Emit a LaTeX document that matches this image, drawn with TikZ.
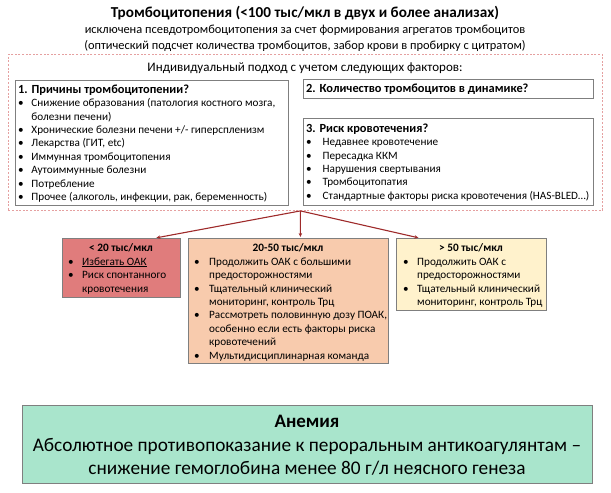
\documentclass[tikz,border=0pt]{standalone}
\usepackage{fontspec}
\setmainfont{Carlito}
\usetikzlibrary{arrows.meta}
\definecolor{redfill}{HTML}{E07C7C}
\definecolor{peachfill}{HTML}{F8CBAD}
\definecolor{yellowfill}{HTML}{FFF2CC}
\definecolor{greenfill}{HTML}{A9E5CC}
\definecolor{boxline}{HTML}{7F7F7F}
\definecolor{dashline}{HTML}{E5A0A0}
\definecolor{arrowred}{HTML}{9E2A2A}
\newlength\bulw
\newcommand\bl[1]{\makebox[\bulw][l]{•}#1}
\newcommand\cl[1]{\hspace*{\bulw}#1}
\newcommand\fr{\rule{0pt}{10pt}}
\newcommand\sect[1]{{\fontsize{12.4}{13.4}\selectfont\bfseries #1}}
\begin{document}
\begin{tikzpicture}[x=1pt,y=-1pt,
  box/.style={draw=boxline, line width=0.8pt, fill=white, inner sep=0pt, anchor=north west},
  cbox/.style={draw=boxline, line width=0.8pt, inner sep=0pt, anchor=north west},
  txt/.style={inner sep=0pt, anchor=north west, align=left, font=\fontsize{11.2}{13.4}\selectfont},
  ctitle/.style={inner sep=0pt, anchor=base, font=\fontsize{11.3}{13.4}\selectfont\bfseries},
  arr/.style={draw=arrowred, line width=1.1pt, -{Stealth[length=4pt,width=3.5pt]}, shorten >=1pt}]
\useasboundingbox (0,0) rectangle (611,493);
% header
\node[anchor=base, inner sep=0pt, font=\fontsize{15.2}{17}\selectfont\bfseries] (title) at (305,17) {Тромбоцитопения (<100 тыс/мкл в двух и более анализах)};
\node[anchor=base, inner sep=0pt, font=\fontsize{12.4}{14}\selectfont] (sub1) at (305,33.5) {исключена псевдотромбоцитопения за счет формирования агрегатов тромбоцитов};
\node[anchor=base, inner sep=0pt, font=\fontsize{12.4}{14}\selectfont] (sub2) at (305,49.5) {(оптический подсчет количества тромбоцитов, забор крови в пробирку с цитратом)};
% dashed frame
\node[draw=dashline, line width=0.9pt, dash pattern=on 2pt off 1.6pt, inner sep=0pt, anchor=north west, minimum width=594pt, minimum height=156pt] (dbox) at (8,54) {};
\node[anchor=base, inner sep=0pt, font=\fontsize{13}{15}\selectfont] (indiv) at (305,71.5) {Индивидуальный подход с учетом следующих факторов:};
% box 1
\node[box, minimum width=273pt, minimum height=125pt] (b1) at (15,80) {};
\setlength\bulw{13.3pt}
\node[txt] (b1t) at (18,83) {\fr\sect{1. Причины тромбоцитопении?}\\
\bl{Снижение образования (патология костного мозга,}\\
\cl{болезни печени)}\\
\bl{Хронические болезни печени +/- гиперспленизм}\\
\bl{Лекарства (ГИТ, etc)}\\
\bl{Иммунная тромбоцитопения}\\
\bl{Аутоиммунные болезни}\\
\bl{Потребление}\\
\bl{Прочее (алкоголь, инфекции, рак, беременность)}};
% box 2
\node[box, minimum width=290pt, minimum height=19pt] (b2) at (303,79) {};
\node[txt] (b2t) at (306,82.5) {\fr\sect{2. Количество тромбоцитов в динамике?}};
% box 3
\node[box, minimum width=290pt, minimum height=87pt] (b3) at (303,118) {};
\setlength\bulw{16.5pt}
\node[txt] (b3t) at (306,122) {\fr\sect{3. Риск кровотечения?}\\
\bl{Недавнее кровотечение}\\
\bl{Пересадка ККМ}\\
\bl{Нарушения свертывания}\\
\bl{Тромбоцитопатия}\\
\bl{Стандартные факторы риска кровотечения (HAS-BLED…)}};
% colored boxes
\node[cbox, fill=redfill, minimum width=118pt, minimum height=59pt] (red) at (62,238) {};
\node[ctitle] (redt) at (121,251) {< 20 тыс/мкл};
\setlength\bulw{14pt}
\node[txt] (redb) at (68,255) {\fr\bl{\underline{Избегать ОАК}}\\
\bl{Риск спонтанного}\\
\cl{кровотечения}};
\node[cbox, fill=peachfill, minimum width=200pt, minimum height=125pt] (mid) at (188,238) {};
\node[ctitle] (midt) at (288,251) {20-50 тыс/мкл};
\setlength\bulw{15pt}
\node[txt] (midb) at (194,255) {\fr\bl{Продолжить ОАК с большими}\\
\cl{предосторожностями}\\
\bl{Тщательный клинический}\\
\cl{мониторинг, контроль Трц}\\
\bl{Рассмотреть половинную дозу ПОАК,}\\
\cl{особенно если есть факторы риска}\\
\cl{кровотечений}\\
\bl{Мультидисциплинарная команда}};
\node[cbox, fill=yellowfill, minimum width=150pt, minimum height=72pt] (rgt) at (396,238) {};
\node[ctitle] (rgtt) at (471,251) {> 50 тыс/мкл};
\setlength\bulw{14pt}
\node[txt] (rgtb) at (403,255) {\fr\bl{Продолжить ОАК с}\\
\cl{предосторожностями}\\
\bl{Тщательный клинический}\\
\cl{мониторинг, контроль Трц}};
% arrows
\coordinate (src) at ([xshift=-5pt]dbox.south);
\draw[arr] (src) -- ([xshift=34pt]red.north);
\draw[arr] (src) -- ([xshift=12pt]mid.north);
\draw[arr] (src) -- ([xshift=-52pt]rgt.north);
% anemia box
\node[cbox, fill=greenfill, minimum width=570pt, minimum height=78pt] (anem) at (22,405) {};
\node[anchor=base, inner sep=0pt, font=\fontsize{19}{23.5}\selectfont\bfseries] (anemt) at (307,427) {Анемия};
\node[anchor=base, inner sep=0pt, font=\fontsize{19.3}{23.5}\selectfont] (anem1) at (307,451) {Абсолютное противопоказание к пероральным антикоагулянтам –};
\node[anchor=base, inner sep=0pt, font=\fontsize{19.3}{23.5}\selectfont] (anem2) at (307,474) {снижение гемоглобина менее 80 г/л неясного генеза};
\end{tikzpicture}
\end{document}
